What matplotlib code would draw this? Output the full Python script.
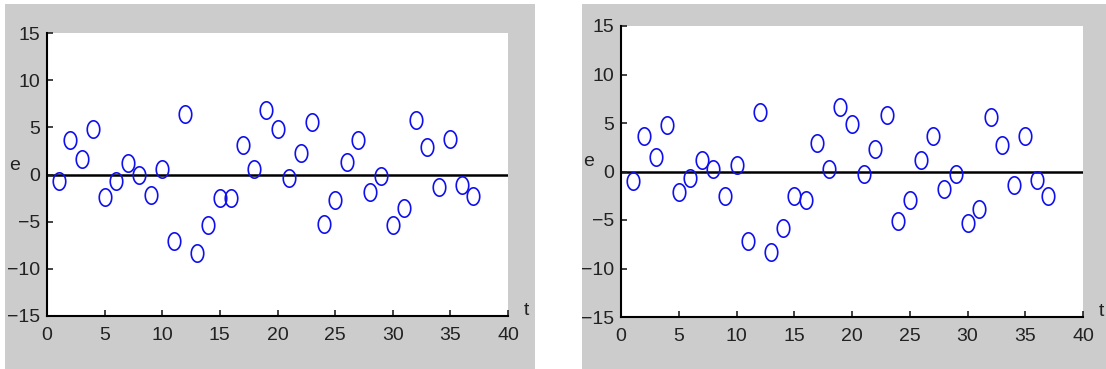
import numpy as np
import matplotlib
matplotlib.use("Agg")
import matplotlib.pyplot as plt
from matplotlib.patches import Rectangle
from matplotlib.path import Path
from matplotlib.markers import MarkerStyle

plt.rcParams['font.family'] = ['Liberation Sans Narrow', 'Liberation Sans', 'DejaVu Sans']

# residuals e(t) for t = 1..37
t = list(range(1, 38))
e_left = [-0.7, 3.7, 1.6, 4.8, -2.4, -0.7, 1.2, 0.0, -2.2, 0.6,
          -7.1, 6.4, -8.3, -5.4, -2.5, -2.5, 3.1, 0.6, 6.8, 4.8,
          -0.4, 2.3, 5.6, -5.2, -2.7, 1.3, 3.7, -1.9, -0.2, -5.4,
          -3.5, 5.8, 2.9, -1.3, 3.8, -1.1, -2.3]
e_right = [-1.0, 3.7, 1.5, 4.8, -2.1, -0.7, 1.2, 0.3, -2.5, 0.7,
           -7.2, 6.1, -8.3, -5.8, -2.5, -2.9, 2.9, 0.3, 6.7, 4.9,
           -0.3, 2.3, 5.8, -5.1, -2.9, 1.2, 3.7, -1.8, -0.3, -5.3,
           -3.9, 5.6, 2.7, -1.4, 3.7, -0.9, -2.5]
x_ticks = [0, 5, 10, 15, 20, 25, 30, 35, 40]
y_ticks = [-15, -10, -5, 0, 5, 10, 15]

W, H = 1106, 369
fig = plt.figure(figsize=(W / 100, H / 100), dpi=100)
fig.patch.set_facecolor('white')

# grey matlab-style figure panels
fig.patches.append(Rectangle((5 / W, 0), 530 / W, 365 / H, transform=fig.transFigure,
                             facecolor='#cccccc', edgecolor='none', zorder=-5))
fig.patches.append(Rectangle((582 / W, 0), 524 / W, 365 / H, transform=fig.transFigure,
                             facecolor='#cccccc', edgecolor='none', zorder=-5))

# slightly tall ellipse marker
th = np.linspace(0, 2 * np.pi, 60)
ell = Path(np.column_stack([0.72 * np.cos(th), np.sin(th)]), closed=True)
marker = MarkerStyle(ell)

panels = [
    ([47, 508, 33, 316], e_left),
    ([621, 1083, 26, 317], e_right),
]

for (x0, x1, ytop, ybot), e in panels:
    ax = fig.add_axes([x0 / W, (H - ybot) / H, (x1 - x0) / W, (ybot - ytop) / H])
    ax.set_zorder(2)
    ax.set_facecolor('white')
    ax.plot([0, 40], [0, 0], color='black', lw=1.8, zorder=1)
    ax.plot(t, e, linestyle='none', marker=marker, markersize=12.5,
            markerfacecolor='none', markeredgecolor='#1010ee', markeredgewidth=1.2, zorder=2)
    ax.set_xlim(0, 40)
    ax.set_ylim(-15, 15)
    ax.set_xticks(x_ticks)
    ax.set_yticks(y_ticks)
    ax.spines['top'].set_visible(False)
    ax.spines['right'].set_visible(False)
    ax.spines['left'].set_linewidth(1.5)
    ax.spines['bottom'].set_linewidth(1.5)
    ax.tick_params(direction='in', length=4, width=1.2, labelsize=14, colors='#222222')
    ax.tick_params(axis='x', pad=8)
    ax.tick_params(axis='y', pad=5)
    ax.text(-2.8, 1.0, 'e', fontsize=14, color='#222222', ha='center', va='center', clip_on=False)
    ax.text(41.6, -14.4, 't', fontsize=14, color='#222222', ha='center', va='center', clip_on=False)

fig.savefig('out.png', dpi=100)
